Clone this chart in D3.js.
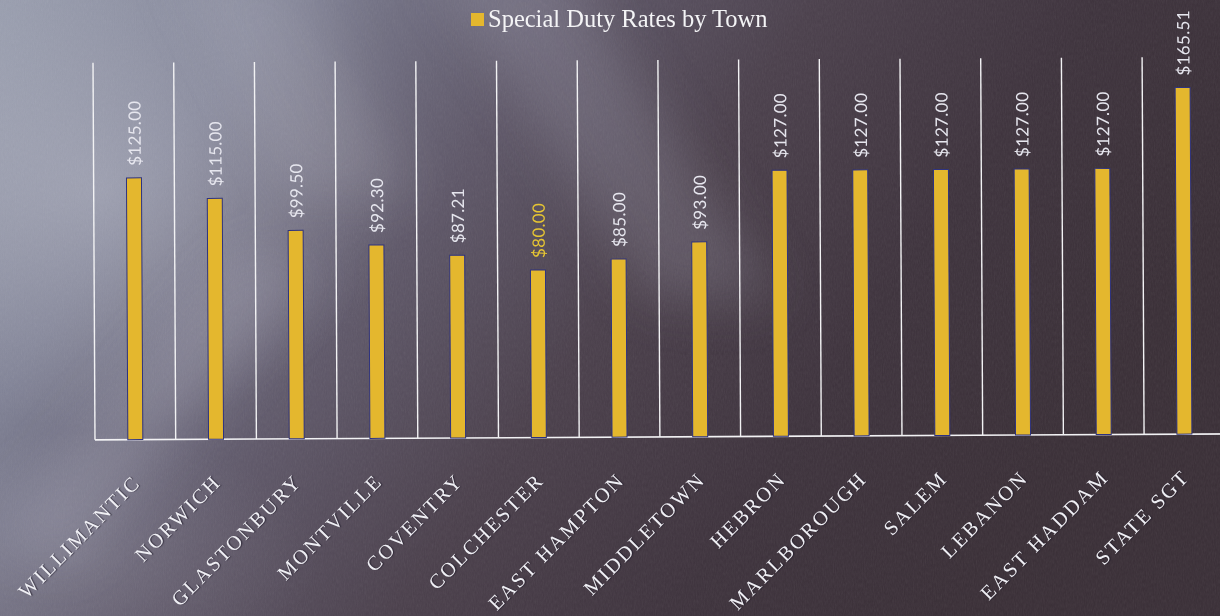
<!DOCTYPE html>
<html>
<head>
<meta charset="utf-8">
<script src="https://cdn.jsdelivr.net/npm/d3@7"></script>
<style>
  html, body { margin: 0; padding: 0; background: #4a4250; }
  svg { display: block; }
</style>
</head>
<body>
<div id="chart"></div>
<script>
// data
const towns = ["WILLIMANTIC", "NORWICH", "GLASTONBURY", "MONTVILLE", "COVENTRY",
  "COLCHESTER", "EAST HAMPTON", "MIDDLETOWN", "HEBRON", "MARLBOROUGH",
  "SALEM", "LEBANON", "EAST HADDAM", "STATE SGT"];
const rates = [125.00, 115.00, 99.50, 92.30, 87.21, 80.00, 85.00, 93.00,
  127.00, 127.00, 127.00, 127.00, 127.00, 165.51];
const highlightTown = "COLCHESTER";
const seriesName = "Special Duty Rates by Town";

const W = 1220, H = 616;
const gold = "#e4b72e";

const svg = d3.select("#chart").append("svg")
  .attr("width", W).attr("height", H);

// ---- background (photo-like gradient with light streaks)
const defs = svg.append("defs");
const bg = defs.append("linearGradient").attr("id", "bg")
  .attr("x1", 0).attr("y1", 0).attr("x2", 1).attr("y2", 0.35);
[[0, "#979cad"], [0.2, "#7f8195"], [0.42, "#5f5869"], [0.6, "#4b404c"],
 [0.8, "#3e333d"], [1, "#3a2f37"]].forEach(s =>
  bg.append("stop").attr("offset", s[0]).attr("stop-color", s[1]));

const glow = defs.append("radialGradient").attr("id", "glow")
  .attr("cx", 0.5).attr("cy", 0.5).attr("r", 0.5);
glow.append("stop").attr("offset", 0).attr("stop-color", "#e8eaf2").attr("stop-opacity", 0.28);
glow.append("stop").attr("offset", 1).attr("stop-color", "#e8eaf2").attr("stop-opacity", 0);

defs.append("filter").attr("id", "blur")
  .attr("x", "-50%").attr("y", "-50%").attr("width", "200%").attr("height", "200%")
  .append("feGaussianBlur").attr("stdDeviation", 26);

const noise = defs.append("filter").attr("id", "noise");
noise.append("feTurbulence").attr("type", "fractalNoise")
  .attr("baseFrequency", "0.9 0.25").attr("numOctaves", 2).attr("seed", 3);
noise.append("feColorMatrix").attr("type", "saturate").attr("values", 0);

svg.append("rect").attr("width", W).attr("height", H).attr("fill", "url(#bg)");
svg.append("ellipse").attr("cx", 100).attr("cy", 190).attr("rx", 300).attr("ry", 240)
  .attr("fill", "url(#glow)");
svg.append("ellipse").attr("cx", 80).attr("cy", 560).attr("rx", 240).attr("ry", 130)
  .attr("fill", "url(#glow)").attr("opacity", 0.4);

const streaks = svg.append("g").attr("filter", "url(#blur)");
streaks.append("polygon").attr("points", "430,-40 560,-40 780,300 650,300")
  .attr("fill", "#b8b8c8").attr("opacity", 0.22);
streaks.append("polygon").attr("points", "170,-40 300,-40 420,200 290,200")
  .attr("fill", "#e0e2ea").attr("opacity", 0.14);
streaks.append("polygon").attr("points", "240,250 320,270 70,560 -10,540")
  .attr("fill", "#c8cad8").attr("opacity", 0.2);
svg.append("rect").attr("width", W).attr("height", H)
  .attr("filter", "url(#noise)").attr("opacity", 0.08);

// ---- chart
const chart = svg.append("g").attr("transform", "rotate(-0.3, 640, 250)");

const x = d3.scaleBand().domain(towns).range([94, 94 + 14 * 80.7]).padding(0);
const y = d3.scaleLinear().domain([0, 180]).range([437, 60]);
const bw = x.bandwidth();
const barW = 15;

// vertical separators between categories
chart.append("g").selectAll("line")
  .data(towns)
  .join("line")
  .attr("x1", d => x(d)).attr("x2", d => x(d))
  .attr("y1", y(180)).attr("y2", y(0))
  .attr("stroke", "#f2f2f4").attr("stroke-width", 1.4);

// x axis baseline
chart.append("line")
  .attr("x1", x(towns[0])).attr("x2", W + 20)
  .attr("y1", y(0)).attr("y2", y(0))
  .attr("stroke", "#f2f2f4").attr("stroke-width", 1.6);

// bars
chart.append("g").selectAll("rect")
  .data(rates)
  .join("rect")
  .attr("x", (d, i) => x(towns[i]) + (bw - barW) / 2)
  .attr("y", d => y(d))
  .attr("width", barW)
  .attr("height", d => y(0) - y(d))
  .attr("fill", gold)
  .attr("stroke", "#2e3380").attr("stroke-width", 1);

// value labels
chart.append("g").selectAll("text")
  .data(rates)
  .join("text")
  .attr("transform", (d, i) =>
    `translate(${x(towns[i]) + bw / 2 + 7},${y(d) - 12}) rotate(-90)`)
  .attr("text-anchor", "start")
  .attr("font-family", "Lato, 'Open Sans', sans-serif")
  .attr("font-size", 17)
  .attr("letter-spacing", 0.3)
  .attr("fill", (d, i) => towns[i] === highlightTown ? "#e6c533" : "#e6e6ee")
  .text(d => "$" + d3.format(".2f")(d));

// category labels
chart.append("g").selectAll("text")
  .data(towns)
  .join("text")
  .attr("transform", d => `translate(${x(d) + bw / 2 + 6},481) rotate(-45)`)
  .attr("text-anchor", "end")
  .attr("font-family", "'Liberation Serif', 'DejaVu Serif', serif")
  .attr("font-size", 20.5)
  .attr("letter-spacing", 2.2)
  .attr("fill", "#efeff4")
  .style("text-shadow", "1px 1px 1px rgba(30,25,40,0.6)")
  .text(d => d);

// legend / title
const legend = svg.append("g").attr("transform", "translate(471,13)");
legend.append("rect").attr("width", 13).attr("height", 13).attr("fill", gold);
legend.append("text")
  .attr("x", 17).attr("y", 13.5)
  .attr("font-family", "'Liberation Serif', 'DejaVu Serif', serif")
  .attr("font-size", 24.5)
  .attr("fill", "#f4f4f6")
  .text(seriesName);
</script>
</body>
</html>
